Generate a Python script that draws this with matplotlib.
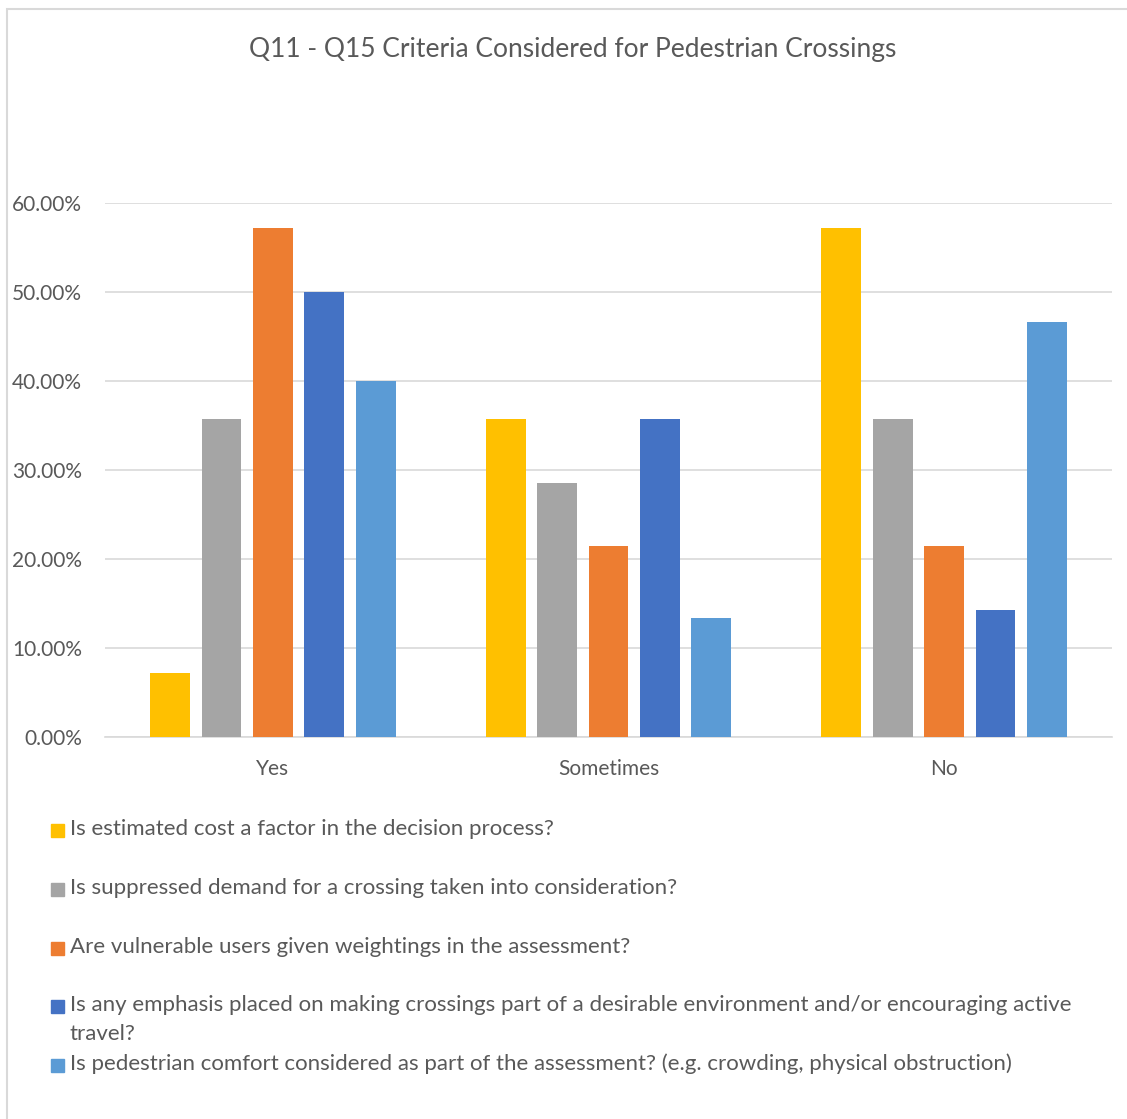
import numpy as np
import matplotlib.pyplot as plt
from matplotlib.patches import Rectangle

plt.rcParams['font.family'] = ['Lato', 'DejaVu Sans']

categories = ['Yes', 'Sometimes', 'No']
series_names = [
    'Is estimated cost a factor in the decision process?',
    'Is suppressed demand for a crossing taken into consideration?',
    'Are vulnerable users given weightings in the assessment?',
    'Is any emphasis placed on making crossings part of a desirable environment and/or encouraging active\ntravel?',
    'Is pedestrian comfort considered as part of the assessment? (e.g. crowding, physical obstruction)',
]
cost = [7.14, 35.71, 57.14]
suppressed = [35.71, 28.57, 35.71]
vulnerable = [57.14, 21.43, 21.43]
emphasis = [50.00, 35.71, 14.29]
comfort = [40.00, 13.33, 46.67]
yticks = [0, 10, 20, 30, 40, 50, 60]

series = [cost, suppressed, vulnerable, emphasis, comfort]
colors = ['#FFC000', '#A5A5A5', '#ED7D31', '#4472C4', '#5B9BD5']
text_color = '#595959'

W, H = 1127, 1119
fig = plt.figure(figsize=(W / 100, H / 100), dpi=100)

# chart border (cut off at right and bottom like the screenshot)
fig.patches.append(Rectangle((7 / W, -0.1), 1.2, 1 - 9 / H + 0.1,
                             transform=fig.transFigure, fill=False,
                             edgecolor='#D9D9D9', linewidth=1.5))

ax = fig.add_axes([105 / W, 1 - 737 / H, 1007 / W, 534 / H])
x = np.arange(len(categories))
pitch, width = 0.153, 0.119
for i, (vals, c) in enumerate(zip(series, colors)):
    ax.bar(x + (i - 2) * pitch, vals, width, color=c, zorder=3)

ax.set_xlim(-0.5, 2.5)
ax.set_ylim(0, 60)
ax.set_yticks(yticks)
ax.set_yticklabels([f'{v:.2f}%' for v in yticks])
ax.set_xticks(x)
ax.set_xticklabels(categories)
ax.grid(axis='y', color='#D9D9D9', linewidth=1.2, zorder=0)
for s in ['top', 'right', 'left']:
    ax.spines[s].set_visible(False)
ax.spines['bottom'].set_color('#D9D9D9')
ax.spines['bottom'].set_linewidth(1.2)
ax.tick_params(length=0, labelsize=15, labelcolor=text_color)
ax.tick_params(axis='y', pad=16.5)
ax.tick_params(axis='x', pad=16)

fig.text(573 / W, 1 - 50 / H, 'Q11 - Q15 Criteria Considered for Pedestrian Crossings',
         ha='center', va='center', fontsize=19, color=text_color)

# legend
legend_y = [829, 888, 947, 1005, 1064]
for name, c, yy in zip(series_names, colors, legend_y):
    fig.patches.append(Rectangle((51 / W, 1 - (yy + 8) / H), 13 / W, 13 / H,
                                 transform=fig.transFigure, color=c))
    ty = yy + 14.5 if '\n' in name else yy
    fig.text(70 / W, 1 - ty / H, name, ha='left', va='center',
             fontsize=16, color=text_color, linespacing=1.58)

fig.savefig('out.png', dpi=100)
